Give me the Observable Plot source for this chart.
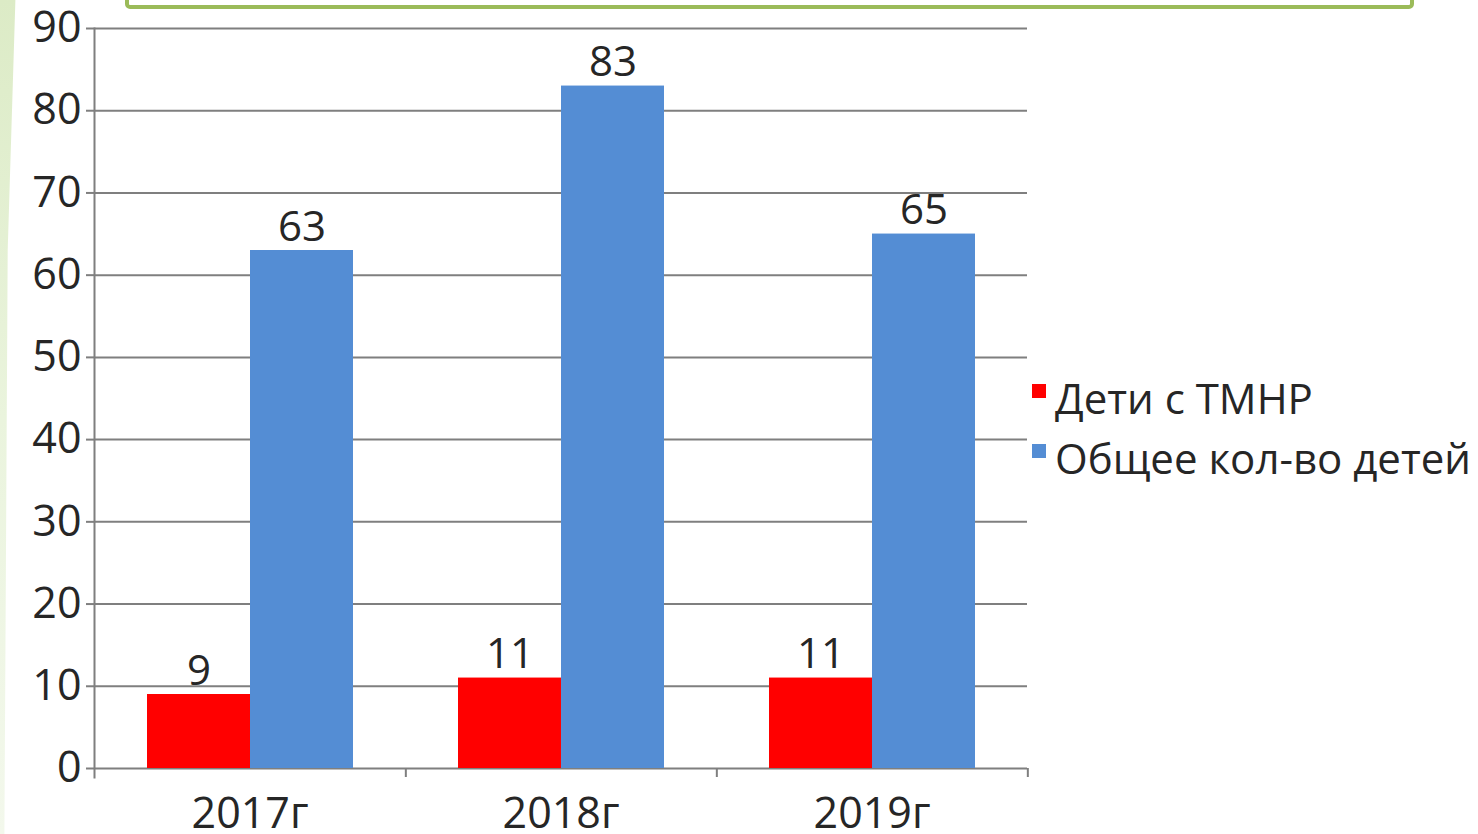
<!DOCTYPE html>
<html>
<head>
<meta charset="utf-8">
<script src="https://cdn.jsdelivr.net/npm/d3@7"></script>
<script src="https://cdn.jsdelivr.net/npm/@observablehq/plot@0.6"></script>
<style>
  html, body { margin: 0; padding: 0; background: #ffffff; width: 1478px; height: 834px; overflow: hidden; }
  #wrap { position: relative; width: 1478px; height: 834px; font-family: "Open Sans", sans-serif; color: #262626; }
  #stripe { position: absolute; left: 0; top: 0; width: 22px; height: 834px;
    background: linear-gradient(180deg, #dcebc6 0%, #eaf4dd 50%, #f3f8ec 100%);
    clip-path: polygon(0 0, 70% 0, 35% 30%, 20% 100%, 0 100%); }
  #topbox { position: absolute; left: 125px; top: -30px; width: 1281px; height: 31px;
    border: 4px solid #9bbb59; border-radius: 5px; }
  #chart { position: absolute; left: 0; top: 0; }
  #legend { position: absolute; left: 1032px; top: 368px; font-size: 42px; line-height: 60px; }
  .row { display: flex; align-items: center; white-space: nowrap; }
  .sw { width: 14px; height: 14px; margin-right: 9px; margin-top: -14px; }
</style>
</head>
<body>
<div id="wrap">
  <div id="stripe"></div>
  <div id="topbox"></div>
  <div id="chart"></div>
  <div id="legend"></div>
</div>
<script>
const years = ["2017г", "2018г", "2019г"];
const series = ["Дети с ТМНР", "Общее кол-во детей"];
const tmnr = [9, 11, 11];
const total = [63, 83, 65];
const yTicks = [0, 10, 20, 30, 40, 50, 60, 70, 80, 90];
const colors = ["#ff0000", "#548dd4"];

const data = [];
years.forEach((yr, i) => {
  data.push({year: yr, series: series[0], value: tmnr[i]});
  data.push({year: yr, series: series[1], value: total[i]});
});

const W = 1478, H = 834, mL = 93, mR = 450, mT = 28, mB = 66;
const bw = (W - mL - mR) / years.length;
const axisColor = "#7f7f7f";

const chart = Plot.plot({
  width: W, height: H,
  marginLeft: mL, marginRight: mR, marginTop: mT, marginBottom: mB,
  style: {fontFamily: "Open Sans", fontSize: "40px", color: "#262626", background: "transparent", overflow: "visible"},
  fx: {domain: years, padding: 0, label: null},
  x: {domain: series, paddingInner: 0, paddingOuter: 0.5, axis: null},
  y: {domain: [0, 90], axis: null},
  color: {domain: series, range: colors},
  marks: [
    Plot.gridY(yTicks, {stroke: axisColor, strokeOpacity: 1, strokeWidth: 2}),
    Plot.axisY(yTicks, {tickSize: 8, tickPadding: 5, stroke: axisColor, strokeWidth: 2, fontSize: 43, fill: "#262626", label: null}),
    Plot.barY(data, {fx: "year", x: "series", y: "value", fill: "series"}),
    Plot.text(data, {fx: "year", x: "series", y: "value", text: d => String(d.value), dy: -10, lineAnchor: "bottom", fontSize: 42, fill: "#262626"}),
    Plot.axisFx({anchor: "bottom", tickSize: 0, tickPadding: 29, fontSize: 43, fill: "#262626", label: null}),
    Plot.axisFx({anchor: "bottom", text: null, tickSize: 9, dx: bw / 2, stroke: axisColor, strokeWidth: 2, label: null}),
    Plot.frame({anchor: "left", facetAnchor: "left", insetBottom: -9, stroke: axisColor, strokeWidth: 2})
  ]
});
document.getElementById("chart").appendChild(chart);

const legend = document.getElementById("legend");
series.forEach((s, i) => {
  const row = document.createElement("div");
  row.className = "row";
  const sw = document.createElement("span");
  sw.className = "sw";
  sw.style.background = colors[i];
  const t = document.createElement("span");
  t.textContent = s;
  row.appendChild(sw);
  row.appendChild(t);
  legend.appendChild(row);
});
</script>
</body>
</html>
